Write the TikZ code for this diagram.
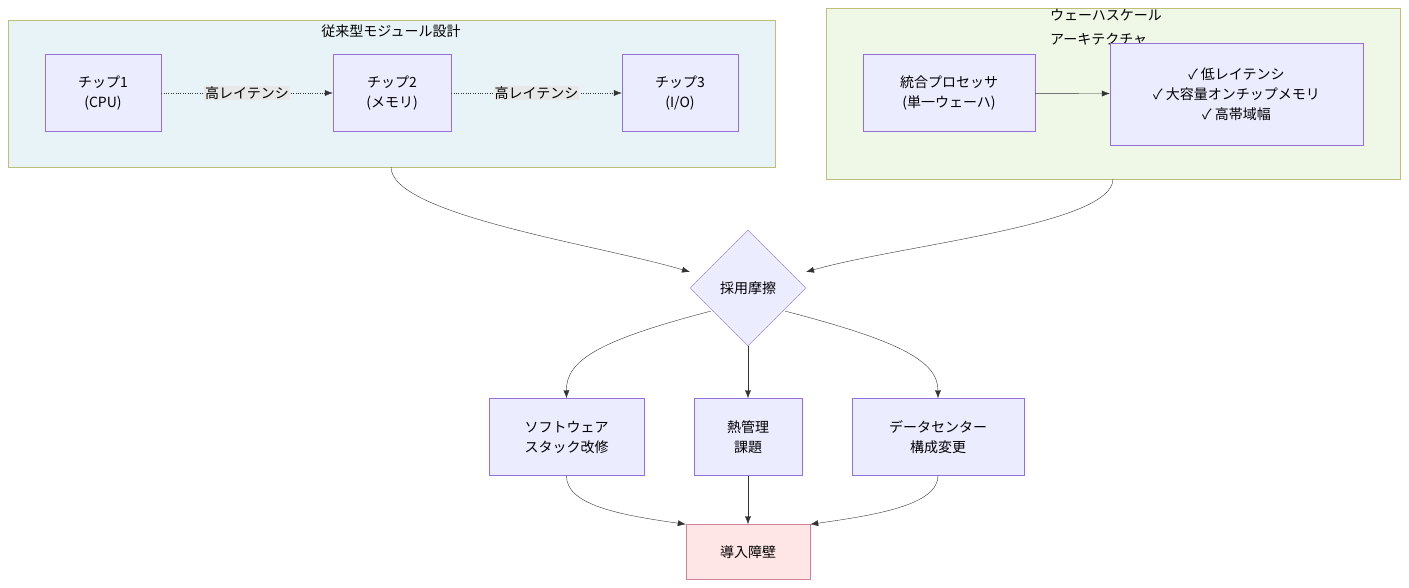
\documentclass[tikz,border=0pt]{standalone}
\usepackage{fontspec}
\setmainfont{Noto Sans CJK JP}
\usetikzlibrary{shapes.geometric,arrows.meta}
\definecolor{nodefill}{RGB}{236,236,255}
\definecolor{nodeline}{RGB}{147,112,219}
\definecolor{clusterline}{RGB}{190,190,120}
\definecolor{bluebg}{RGB}{232,243,247}
\definecolor{greenbg}{RGB}{239,247,230}
\definecolor{barrierfill}{RGB}{255,230,230}
\definecolor{barrierline}{RGB}{210,130,150}
\definecolor{labelbg}{RGB}{232,232,232}
\tikzset{
  box/.style={draw=nodeline, fill=nodefill, align=center, font=\fontsize{14}{20}\selectfont, inner sep=0pt},
  cluster/.style={draw=clusterline},
  edge/.style={draw=black!80, -{Latex[length=8pt,width=6pt]}},
  lat/.style={fill=labelbg, inner sep=1pt, font=\fontsize{14}{18}\selectfont}
}
\begin{document}
\begin{tikzpicture}[x=1pt,y=-1pt]
\useasboundingbox (0,0) rectangle (1409,588);
% clusters
\draw[cluster, fill=bluebg] (8,20) rectangle (775,167);
\node[font=\fontsize{14}{18}\selectfont] (modtitle) at (391,31) {従来型モジュール設計};
\draw[cluster, fill=greenbg] (826,8) rectangle (1400,179);
\node[font=\fontsize{14}{24}\selectfont, align=left, anchor=north west, inner sep=0pt] (wsetitle) at (1050,9) {ウェーハスケール\\アーキテクチャ};
% chips
\node[box, minimum width=116pt, minimum height=77pt] (chip1) at (103,93) {チップ1\\(CPU)};
\node[box, minimum width=118pt, minimum height=77pt] (chip2) at (392,93) {チップ2\\(メモリ)};
\node[box, minimum width=116pt, minimum height=77pt] (chip3) at (680,93) {チップ3\\(I/O)};
\draw[edge, dotted] (chip1) -- node[lat] {高レイテンシ} (chip2);
\draw[edge, dotted] (chip2) -- node[lat] {高レイテンシ} (chip3);
% wafer-scale
\node[box, minimum width=172pt, minimum height=77pt] (proc) at (949,93) {統合プロセッサ\\(単一ウェーハ)};
\node[box, minimum width=253pt, minimum height=102pt] (feat) at (1236.5,94) {✓ 低レイテンシ\\✓ 大容量オンチップメモリ\\✓ 高帯域幅};
\draw[edge] (proc) -- (feat);
% friction
\node[box, diamond, minimum width=116pt, minimum height=116pt] (fric) at (748,288) {採用摩擦};
\coordinate (modbot) at (391,167);
\coordinate (wsebot) at (1113,179);
\draw[edge] (modbot) .. controls (391,215) and (600,245) .. (690,272);
\draw[edge] (wsebot) .. controls (1113,225) and (900,245) .. (806,272);
\node[box, minimum width=155pt, minimum height=77pt] (soft) at (566.5,437) {ソフトウェア\\スタック改修};
\node[box, minimum width=108pt, minimum height=77pt] (heat) at (748,437) {熱管理\\課題};
\node[box, minimum width=172pt, minimum height=77pt] (dc) at (938,437) {データセンター\\構成変更};
\draw[edge] (fric.south west) ++(-8,-6) .. controls (600,340) and (566,360) .. (soft.north);
\draw[edge] (fric) -- (heat);
\draw[edge] (fric.south east) ++(8,-6) .. controls (896,340) and (938,360) .. (dc.north);
\node[box, draw=barrierline, fill=barrierfill, minimum width=124pt, minimum height=55pt] (barrier) at (748,552) {導入障壁};
\draw[edge] (soft.south) .. controls (566,505) and (620,515) .. (barrier.north west);
\draw[edge] (heat) -- (barrier);
\draw[edge] (dc.south) .. controls (938,505) and (876,515) .. (barrier.north east);
\end{tikzpicture}
\end{document}
